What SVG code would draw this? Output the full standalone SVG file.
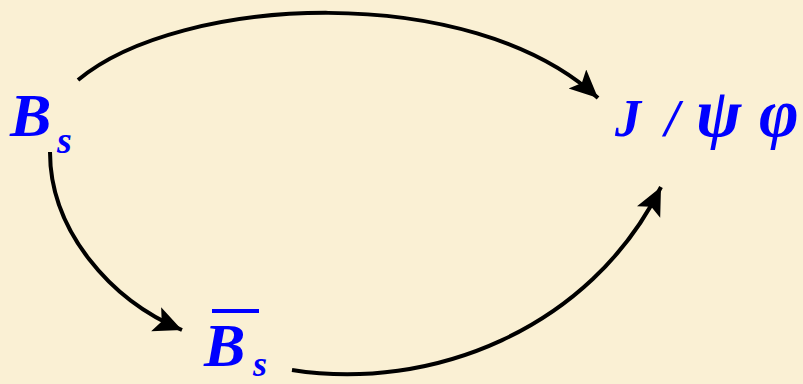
<svg xmlns="http://www.w3.org/2000/svg" width="803" height="384" viewBox="0 0 803 384">
<defs>
<marker id="ah" markerUnits="userSpaceOnUse" markerWidth="34" markerHeight="30" refX="28" refY="13" orient="auto">
<path d="M0,0 L28,13 L0,26 L6,13 Z" fill="#000"/>
</marker>
<style>
.lbl{font-family:"Liberation Serif","Times New Roman",serif;font-weight:bold;font-style:italic;fill:#0000FF}
.con{fill:none;stroke:#000;stroke-width:4;marker-end:url(#ah)}
</style>
</defs>
<rect width="803" height="384" fill="#FAF0D4"/>
<g id="connectors">
<path class="con" d="M78,80 C180,-5 470,-20 598,98"/>
<path class="con" d="M50,152 C50,230 110,300 182,330"/>
<path class="con" d="M292,370 C430,392 590,330 661,187"/>
</g>
<g id="node-Bs">
<text class="lbl" x="10" y="136" font-size="62">B</text>
<text class="lbl" x="57" y="153" font-size="38">s</text>
</g>
<g id="node-Bsbar">
<line x1="212" y1="311" x2="259" y2="311" stroke="#0000FF" stroke-width="4"/>
<text class="lbl" x="204" y="366" font-size="62">B</text>
<text class="lbl" x="253" y="376" font-size="36">s</text>
</g>
<g id="node-Jpsiphi">
<text class="lbl" font-size="52" y="136"><tspan x="615">J</tspan><tspan x="665">/</tspan><tspan x="696" font-size="68">ψ</tspan><tspan x="759" font-size="68">φ</tspan></text>
</g>
</svg>
